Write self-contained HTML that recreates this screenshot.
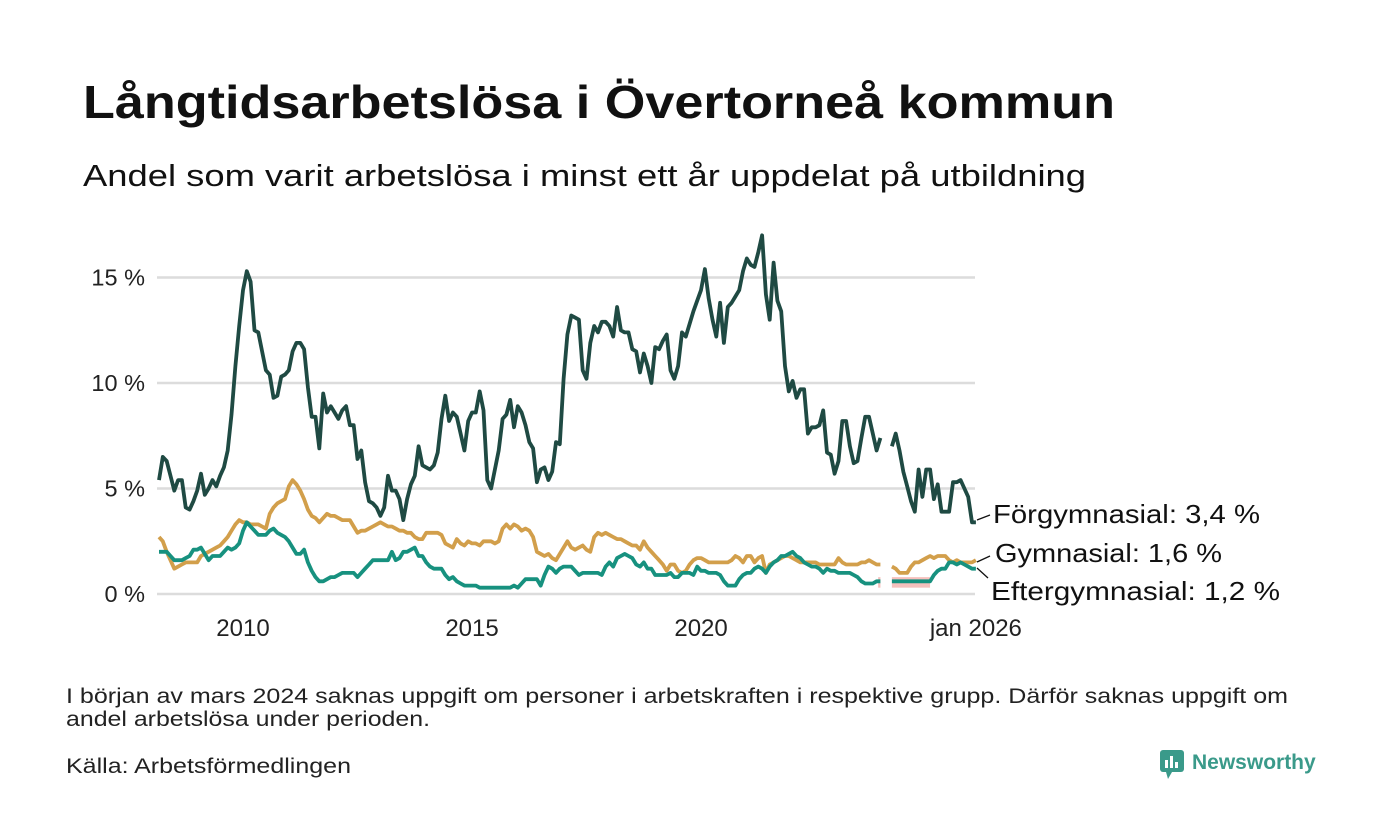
<!DOCTYPE html>
<html><head><meta charset="utf-8">
<style>
html,body{margin:0;padding:0;background:#fff;}
svg{display:block;font-family:"Liberation Sans",sans-serif;}
</style></head>
<body>
<svg id="chart" width="1400" height="840" viewBox="0 0 1400 840" xmlns="http://www.w3.org/2000/svg">
<rect width="1400" height="840" fill="#fff"/>
<text x="83" y="118" font-size="46" font-weight="bold" fill="#111" textLength="1032" lengthAdjust="spacingAndGlyphs">Långtidsarbetslösa i Övertorneå kommun</text>
<text x="83" y="186" font-size="31" fill="#111" textLength="1003" lengthAdjust="spacingAndGlyphs">Andel som varit arbetslösa i minst ett år uppdelat på utbildning</text>
<g id="grid"></g>
<g id="yticks"></g>
<g id="xticks"></g>
<g id="bands"></g>
<g id="lines"></g>
<g id="labels"></g>
<text x="66" y="703" font-size="21" fill="#222" textLength="1222" lengthAdjust="spacingAndGlyphs">I början av mars 2024 saknas uppgift om personer i arbetskraften i respektive grupp. Därför saknas uppgift om</text>
<text x="66" y="726" font-size="21" fill="#222" textLength="364" lengthAdjust="spacingAndGlyphs">andel arbetslösa under perioden.</text>
<text x="66" y="773" font-size="21" fill="#222" textLength="285" lengthAdjust="spacingAndGlyphs">Källa: Arbetsförmedlingen</text>
<g>
<rect x="1160" y="750" width="24" height="22" rx="3" fill="#3a9a8a"/>
<polygon points="1166,772 1172,772 1168,779" fill="#3a9a8a"/>
<rect x="1165" y="760" width="3" height="8" fill="#fff"/><rect x="1170" y="756" width="3" height="12" fill="#fff"/><rect x="1175" y="762" width="3" height="6" fill="#fff"/>
<text x="1192" y="769" font-size="21" font-weight="bold" fill="#3a9a8a">Newsworthy</text>
</g>
</svg>
<script>
const startMonth = -22; // months relative to Jan 2010
const forgymnasial = [5.4,6.5,6.3,5.6,4.9,5.4,5.4,4.1,4.0,4.4,4.9,5.7,4.7,5.0,5.4,5.1,5.6,6.0,6.8,8.5,10.8,12.7,
14.4,15.3,14.8,12.5,12.4,11.5,10.6,10.4,9.3,9.4,10.3,10.4,
10.6,11.5,11.9,11.9,11.6,9.8,8.4,8.4,6.9,9.5,8.6,8.9,
8.6,8.3,8.7,8.9,8.0,8.0,6.4,6.8,5.3,4.4,4.3,4.1,
3.7,4.1,5.6,4.9,4.9,4.5,3.5,4.5,5.2,5.6,7.0,6.1,
6.0,5.9,6.1,6.7,8.3,9.4,8.2,8.6,8.4,7.6,6.8,8.2,
8.6,8.6,9.6,8.7,5.4,5.0,5.9,6.8,8.3,8.5,9.2,7.9,
8.9,8.6,8.0,7.2,6.9,5.3,5.9,6.0,5.4,5.8,7.2,7.1,
10.2,12.3,13.2,13.1,13.0,10.6,10.2,11.9,12.7,12.4,12.9,12.9,
12.7,12.2,13.6,12.5,12.4,12.4,11.6,11.5,10.5,11.4,10.8,10.0,
11.7,11.6,12.0,12.3,10.6,10.2,10.8,12.4,12.2,12.8,13.4,13.9,
14.4,15.4,14.0,13.0,12.2,13.8,11.9,13.6,13.8,14.1,14.4,15.3,
15.9,15.6,15.5,16.2,17.0,14.2,13.0,15.7,13.9,13.4,10.8,9.6,
10.1,9.3,9.7,9.7,7.6,7.9,7.9,8.0,8.7,6.7,6.6,5.7,
6.3,8.2,8.2,7.0,6.2,6.3,7.4,8.4,8.4,7.6,6.8,7.4,
null,null,7.0,7.6,6.8,5.8,5.1,4.4,3.9,5.9,4.6,5.9,
5.9,4.5,5.2,3.9,3.9,3.9,5.3,5.3,5.4,5.0,4.6,3.4,
3.4];
const gymnasial = [2.7,2.5,2.0,1.6,1.2,1.3,1.4,1.5,1.5,1.5,1.5,1.8,1.9,2.0,2.1,2.2,2.3,2.5,2.7,3.0,3.3,3.5,
3.4,3.4,3.3,3.3,3.3,3.2,3.1,3.8,4.1,4.3,4.4,4.5,
5.1,5.4,5.2,4.9,4.5,4.0,3.7,3.6,3.4,3.6,3.8,3.7,
3.7,3.6,3.5,3.5,3.5,3.2,2.9,3.0,3.0,3.1,3.2,3.3,
3.4,3.3,3.2,3.2,3.1,3.0,3.0,2.9,2.9,2.7,2.6,2.6,
2.9,2.9,2.9,2.9,2.8,2.4,2.3,2.2,2.6,2.4,2.3,2.5,
2.4,2.4,2.3,2.5,2.5,2.5,2.4,2.5,3.1,3.3,3.1,3.3,
3.2,3.0,3.1,3.0,2.7,2.0,1.9,1.8,1.9,1.7,1.6,1.9,
2.2,2.5,2.2,2.1,2.2,2.3,2.1,2.0,2.7,2.9,2.8,2.9,
2.8,2.7,2.6,2.6,2.5,2.4,2.3,2.3,2.1,2.5,2.2,2.0,
1.8,1.6,1.4,1.1,1.4,1.4,1.1,1.0,1.1,1.4,1.6,1.7,
1.7,1.6,1.5,1.5,1.5,1.5,1.5,1.5,1.6,1.8,1.7,1.5,
1.8,1.8,1.5,1.7,1.8,1.0,1.4,1.5,1.6,1.7,1.8,1.8,
1.7,1.6,1.5,1.5,1.5,1.5,1.5,1.4,1.4,1.4,1.4,1.4,
1.7,1.5,1.4,1.4,1.4,1.4,1.5,1.5,1.6,1.5,1.4,1.4,
null,null,1.3,1.2,1.0,1.0,1.0,1.3,1.5,1.5,1.6,1.7,
1.8,1.7,1.8,1.8,1.8,1.6,1.5,1.6,1.5,1.5,1.5,1.5,
1.6];
const eftergymnasial = [2.0,2.0,2.0,1.8,1.6,1.6,1.6,1.7,1.8,2.1,2.1,2.2,1.9,1.6,1.8,1.8,1.8,2.0,2.2,2.1,2.2,2.4,
3.0,3.4,3.2,3.0,2.8,2.8,2.8,3.0,3.1,2.9,2.8,2.7,
2.5,2.2,1.9,1.9,2.1,1.5,1.1,0.8,0.6,0.6,0.7,0.8,
0.8,0.9,1.0,1.0,1.0,1.0,0.8,1.0,1.2,1.4,1.6,1.6,
1.6,1.6,1.6,2.0,1.6,1.7,2.0,2.0,2.1,2.2,1.8,1.8,
1.5,1.3,1.2,1.2,1.2,0.9,0.7,0.8,0.6,0.5,0.4,0.4,
0.4,0.4,0.3,0.3,0.3,0.3,0.3,0.3,0.3,0.3,0.3,0.4,
0.3,0.5,0.7,0.7,0.7,0.7,0.4,0.9,1.3,1.2,1.0,1.2,
1.3,1.3,1.3,1.1,0.9,1.0,1.0,1.0,1.0,1.0,0.9,1.3,
1.5,1.3,1.7,1.8,1.9,1.8,1.7,1.4,1.3,1.5,1.2,1.2,
0.9,0.9,0.9,0.9,1.0,0.8,0.8,1.0,1.0,1.0,0.9,1.3,
1.1,1.1,1.0,1.0,1.0,0.9,0.6,0.4,0.4,0.4,0.7,0.9,
1.0,1.0,1.2,1.3,1.2,1.0,1.3,1.5,1.6,1.8,1.8,1.9,
2.0,1.8,1.7,1.5,1.4,1.3,1.3,1.2,1.0,1.2,1.1,1.1,
1.0,1.0,1.0,1.0,0.9,0.8,0.6,0.5,0.5,0.5,0.6,0.6,
null,null,0.6,0.6,0.6,0.6,0.6,0.6,0.6,0.6,0.6,0.6,
0.6,0.9,1.1,1.2,1.2,1.5,1.5,1.4,1.5,1.4,1.3,1.2,
1.2];
const bandStartMonths = [166.4, 170];
const bandEndMonths = [167, 180];
const bandLow = [0.3, 0.3];
const bandHigh = [0.8, 0.8];
const yTickValues = [0, 5, 10, 15];
const yTickLabels = ["0 %", "5 %", "10 %", "15 %"];
const xTickMonths = [0, 60, 120, 192];
const xTickLabels = ["2010", "2015", "2020", "jan 2026"];
const seriesNames = ["Förgymnasial", "Gymnasial", "Eftergymnasial"];
const seriesLabelValues = ["3,4 %", "1,6 %", "1,2 %"];

const NS = "http://www.w3.org/2000/svg";
function x(m){ return 243 + m * 3.817; }
function y(v){ return 594 - v * 21.1; }
function mk(tag, attrs, parent){ const e=document.createElementNS(NS,tag); for(const k in attrs) e.setAttribute(k,attrs[k]); parent.appendChild(e); return e; }

const grid=document.getElementById('grid'), yt=document.getElementById('yticks'), xt=document.getElementById('xticks');
yTickValues.forEach((v,i)=>{
  const l=mk('line',{x1:157,x2:975,y1:y(v),y2:y(v),stroke:'#dcdcdc','stroke-width':2.5},grid);
  
  
  const t=mk('text',{x:145,y:y(v)+8,'font-size':23.5,'text-anchor':'end',fill:'#222'},yt);
  t.textContent=yTickLabels[i];
  
  
});
xTickMonths.forEach((m,i)=>{
  const t=mk('text',{x:x(m),y:636,'font-size':24,'text-anchor':'middle',fill:'#222'},xt);
  t.textContent=xTickLabels[i];
  
  
});
const bands=document.getElementById('bands');
bandStartMonths.forEach((s,i)=>{
  const r=mk('rect',{x:x(s),y:y(bandHigh[i]),width:x(bandEndMonths[i])-x(s),height:y(bandLow[i])-y(bandHigh[i]),fill:'#f6c0bd'},bands);
  
  
});
function drawLine(vals,color,name){
  let d='', pen=false;
  vals.forEach((v,i)=>{
    if(v===null){pen=false;return;}
    d+=(pen?'L':'M')+x(startMonth+i).toFixed(1)+','+y(v).toFixed(1);
    pen=true;
  });
  const p=mk('path',{d:d,fill:'none',stroke:color,'stroke-width':3.8,'stroke-linejoin':'round'},document.getElementById('lines'));
  
  
}
drawLine(gymnasial,'#d29f4b','line-gymnasial');
drawLine(eftergymnasial,'#17917f','line-eftergymnasial');
drawLine(forgymnasial,'#1f4a43','line-forgymnasial');

const lab=document.getElementById('labels');
const labelPos=[[993,523,977,520,990,515,267],[995,562,977,562,990,556,227],[991,600,977,568,988,578,289]];
seriesNames.forEach((n,i)=>{
  const p=labelPos[i];
  const ln=mk('line',{x1:p[2],y1:p[3],x2:p[4],y2:p[5],stroke:'#111','stroke-width':1.3},lab);
  
  
  const t=mk('text',{x:p[0],y:p[1],'font-size':26,fill:'#111',textLength:p[6],lengthAdjust:'spacingAndGlyphs'},lab);
  t.textContent=n+': '+seriesLabelValues[i];
  
  
});
</script>
</body></html>
